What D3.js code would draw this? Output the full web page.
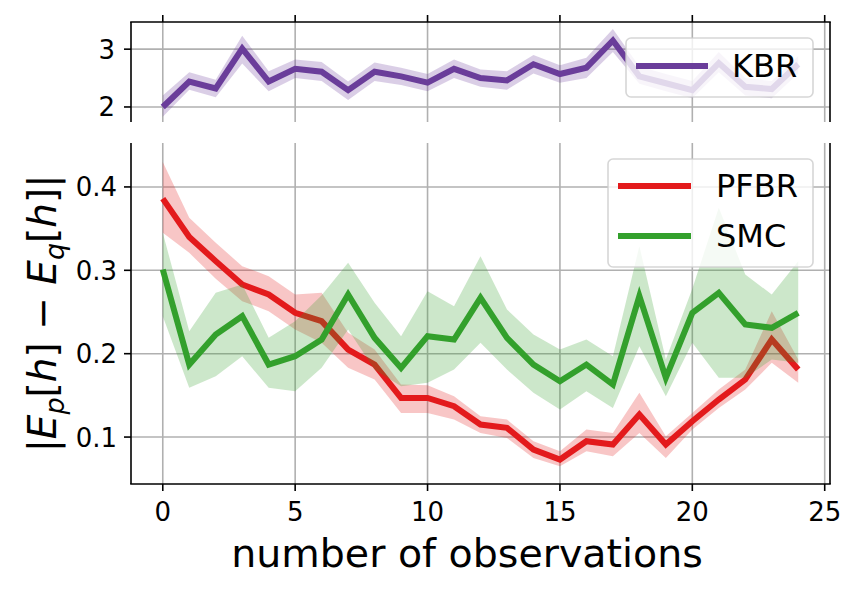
<!DOCTYPE html>
<html>
<head>
<meta charset="UTF-8" />
<script src="https://d3js.org/d3.v7.min.js"></script>
<style>
  body { margin: 0; background: #fff; }
  svg { display: block; font-family: "DejaVu Sans", sans-serif; }
</style>
</head>
<body>
<div id="chart"></div>
<script>
  const width = 858, height = 591;

  // observations 0..24
  const steps = d3.range(0, 25);

  // top panel: KBR
  const kbrMean  = [2.00, 2.44, 2.32, 3.01, 2.44, 2.66, 2.61, 2.29, 2.61, 2.53, 2.42, 2.66, 2.50,
                    2.46, 2.74, 2.57, 2.68, 3.15, 2.53, 2.41, 2.29, 2.76, 2.35, 2.31, 2.74];
  const kbrLow   = [1.83, 2.30, 2.17, 2.75, 2.27, 2.50, 2.45, 2.12, 2.45, 2.38, 2.27, 2.50, 2.35,
                    2.30, 2.58, 2.42, 2.50, 2.95, 2.40, 2.27, 2.15, 2.60, 2.20, 2.15, 2.58];
  const kbrHigh  = [2.20, 2.60, 2.47, 3.23, 2.62, 2.82, 2.78, 2.44, 2.77, 2.68, 2.57, 2.82, 2.65,
                    2.62, 2.90, 2.72, 2.85, 3.35, 2.70, 2.57, 2.45, 2.95, 2.50, 2.45, 2.88];

  // bottom panel: PFBR and SMC
  const pfbrMean = [0.386, 0.340, 0.311, 0.283, 0.271, 0.249, 0.239, 0.205, 0.187, 0.147, 0.147, 0.137, 0.115,
                    0.111, 0.085, 0.073, 0.095, 0.091, 0.127, 0.091, 0.119, 0.145, 0.169, 0.217, 0.181];
  const pfbrLow  = [0.345, 0.321, 0.290, 0.263, 0.251, 0.229, 0.213, 0.183, 0.169, 0.129, 0.129, 0.121, 0.105,
                    0.099, 0.075, 0.065, 0.083, 0.077, 0.105, 0.075, 0.109, 0.135, 0.157, 0.189, 0.165];
  const pfbrHigh = [0.430, 0.363, 0.333, 0.305, 0.293, 0.271, 0.273, 0.225, 0.205, 0.163, 0.162, 0.149, 0.125,
                    0.121, 0.095, 0.083, 0.109, 0.105, 0.153, 0.101, 0.129, 0.157, 0.181, 0.251, 0.193];

  const smcMean  = [0.301, 0.187, 0.223, 0.245, 0.187, 0.197, 0.217, 0.271, 0.219, 0.183, 0.221, 0.217, 0.267,
                    0.219, 0.187, 0.167, 0.187, 0.163, 0.269, 0.171, 0.249, 0.273, 0.235, 0.231, 0.249];
  const smcLow   = [0.245, 0.159, 0.173, 0.197, 0.159, 0.155, 0.183, 0.229, 0.181, 0.161, 0.165, 0.181, 0.213,
                    0.181, 0.153, 0.133, 0.155, 0.135, 0.209, 0.149, 0.213, 0.171, 0.171, 0.193, 0.189];
  const smcHigh  = [0.345, 0.227, 0.273, 0.283, 0.219, 0.239, 0.270, 0.309, 0.261, 0.221, 0.275, 0.257, 0.317,
                    0.253, 0.223, 0.205, 0.217, 0.197, 0.329, 0.193, 0.278, 0.375, 0.295, 0.271, 0.311];

  const xTicks = [0, 5, 10, 15, 20, 25];
  const topTicks = [2, 3];
  const bottomTicks = [0.1, 0.2, 0.3, 0.4];

  const colors = { KBR: "#6a3d9a", PFBR: "#e31a1c", SMC: "#33a02c" };

  const left = 131, right = 830;
  const topPanel = { y0: 22, y1: 122 };
  const botPanel = { y0: 143, y1: 484 };

  const x = d3.scaleLinear().domain([-1.2, 25.2]).range([left, right]);
  const yTop = d3.scaleLinear().domain([1.74, 3.47]).range([topPanel.y1, topPanel.y0]);
  const yBot = d3.scaleLinear().domain([0.0437, 0.4527]).range([botPanel.y1, botPanel.y0]);

  const svg = d3.select("#chart").append("svg")
    .attr("width", width).attr("height", height);

  const gridColor = "#b0b0b0";
  const lw = 6;

  function drawGrid(g, y, yticks, p) {
    g.selectAll(".vg").data(xTicks).join("line")
      .attr("x1", d => x(d)).attr("x2", d => x(d))
      .attr("y1", p.y0).attr("y2", p.y1)
      .attr("stroke", gridColor).attr("stroke-width", 1.6);
    g.selectAll(".hg").data(yticks).join("line")
      .attr("x1", left).attr("x2", right)
      .attr("y1", d => y(d)).attr("y2", d => y(d))
      .attr("stroke", gridColor).attr("stroke-width", 1.6);
  }

  function drawSeries(g, y, mean, low, high, color) {
    const area = d3.area()
      .x((d, i) => x(steps[i]))
      .y0((d, i) => y(low[i]))
      .y1((d, i) => y(high[i]));
    g.append("path").attr("d", area(mean))
      .attr("fill", color).attr("fill-opacity", 0.25);
    const line = d3.line()
      .x((d, i) => x(steps[i]))
      .y(d => y(d));
    g.append("path").attr("d", line(mean))
      .attr("fill", "none").attr("stroke", color)
      .attr("stroke-width", lw).attr("stroke-linejoin", "miter");
  }

  function drawLegend(g, items, box) {
    g.append("rect")
      .attr("x", box.x).attr("y", box.y).attr("width", box.w).attr("height", box.h)
      .attr("rx", 5).attr("ry", 5)
      .attr("fill", "#fff").attr("fill-opacity", 0.8)
      .attr("stroke", "#cccccc").attr("stroke-opacity", 0.8).attr("stroke-width", 1.6);
    items.forEach((name, i) => {
      const cy = box.lineY + i * box.step;
      g.append("line")
        .attr("x1", box.x + box.lx0).attr("x2", box.x + box.lx1)
        .attr("y1", cy).attr("y2", cy)
        .attr("stroke", colors[name]).attr("stroke-width", lw);
      g.append("text")
        .attr("x", box.x + box.tx).attr("y", cy + 11)
        .attr("font-size", 32).attr("fill", "#000")
        .text(name);
    });
  }

  // ---- top panel ----
  const gt = svg.append("g");
  drawGrid(gt, yTop, topTicks, topPanel);
  drawSeries(gt, yTop, kbrMean, kbrLow, kbrHigh, colors.KBR);
  drawLegend(gt, ["KBR"], { x: 626, y: 38, w: 187, h: 59, lineY: 66, step: 0, lx0: 10, lx1: 82, tx: 106 });

  // spines: left, right, top
  gt.append("line").attr("x1", left).attr("x2", left).attr("y1", topPanel.y0).attr("y2", topPanel.y1)
    .attr("stroke", "#000").attr("stroke-width", 1.6);
  gt.append("line").attr("x1", right).attr("x2", right).attr("y1", topPanel.y0).attr("y2", topPanel.y1)
    .attr("stroke", "#000").attr("stroke-width", 1.6);
  gt.append("line").attr("x1", left - 0.8).attr("x2", right + 0.8).attr("y1", topPanel.y0).attr("y2", topPanel.y0)
    .attr("stroke", "#000").attr("stroke-width", 1.6);
  // top ticks
  gt.selectAll(".tt").data(xTicks).join("line")
    .attr("x1", d => x(d)).attr("x2", d => x(d))
    .attr("y1", topPanel.y0).attr("y2", topPanel.y0 - 7)
    .attr("stroke", "#000").attr("stroke-width", 1.6);
  // y ticks
  gt.selectAll(".yt").data(topTicks).join("line")
    .attr("x1", left).attr("x2", left - 7)
    .attr("y1", d => yTop(d)).attr("y2", d => yTop(d))
    .attr("stroke", "#000").attr("stroke-width", 1.6);
  gt.selectAll(".yl").data(topTicks).join("text")
    .attr("x", left - 16).attr("y", d => yTop(d) + 9.5)
    .attr("text-anchor", "end").attr("font-size", 26)
    .text(d => d);

  // ---- bottom panel ----
  const gb = svg.append("g");
  drawGrid(gb, yBot, bottomTicks, botPanel);
  drawSeries(gb, yBot, pfbrMean, pfbrLow, pfbrHigh, colors.PFBR);
  drawSeries(gb, yBot, smcMean, smcLow, smcHigh, colors.SMC);
  drawLegend(gb, ["PFBR", "SMC"], { x: 608, y: 159, w: 205, h: 108, lineY: 186, step: 50, lx0: 10, lx1: 83, tx: 108 });

  gb.append("line").attr("x1", left).attr("x2", left).attr("y1", botPanel.y0).attr("y2", botPanel.y1)
    .attr("stroke", "#000").attr("stroke-width", 1.6);
  gb.append("line").attr("x1", right).attr("x2", right).attr("y1", botPanel.y0).attr("y2", botPanel.y1)
    .attr("stroke", "#000").attr("stroke-width", 1.6);
  gb.append("line").attr("x1", left - 0.8).attr("x2", right + 0.8).attr("y1", botPanel.y1).attr("y2", botPanel.y1)
    .attr("stroke", "#000").attr("stroke-width", 1.6);

  gb.selectAll(".bt").data(xTicks).join("line")
    .attr("x1", d => x(d)).attr("x2", d => x(d))
    .attr("y1", botPanel.y1).attr("y2", botPanel.y1 + 7)
    .attr("stroke", "#000").attr("stroke-width", 1.6);
  gb.selectAll(".bl").data(xTicks).join("text")
    .attr("x", d => x(d)).attr("y", botPanel.y1 + 37)
    .attr("text-anchor", "middle").attr("font-size", 26)
    .text(d => d);
  gb.selectAll(".yt").data(bottomTicks).join("line")
    .attr("x1", left).attr("x2", left - 7)
    .attr("y1", d => yBot(d)).attr("y2", d => yBot(d))
    .attr("stroke", "#000").attr("stroke-width", 1.6);
  gb.selectAll(".yl").data(bottomTicks).join("text")
    .attr("x", left - 14).attr("y", d => yBot(d) + 9.5)
    .attr("text-anchor", "end").attr("font-size", 26)
    .text(d => d.toFixed(1));

  // axis labels
  svg.append("text")
    .attr("x", 467).attr("y", 567)
    .attr("text-anchor", "middle").attr("font-size", 39.5)
    .text("number of observations");

  const yl = svg.append("text")
    .attr("transform", `translate(56,${(botPanel.y0 + botPanel.y1) / 2}) rotate(-90)`)
    .attr("text-anchor", "middle").attr("font-size", 39);
  const parts = [
    ["|", false, false], ["E", true, false], ["p", true, true], ["[", false, false], ["h", true, false], ["]", false, false],
    [" \u2212 ", false, false],
    ["E", true, false], ["q", true, true], ["[", false, false], ["h", true, false], ["]", false, false], ["|", false, false]
  ];
  let prevSub = false;
  parts.forEach(([t, it, sub]) => {
    const ts = yl.append("tspan").text(t);
    if (it) ts.attr("font-style", "italic");
    if (sub) ts.attr("font-size", 27).attr("dy", 8);
    else if (prevSub) ts.attr("dy", -8);
    prevSub = sub;
  });
</script>
</body>
</html>
